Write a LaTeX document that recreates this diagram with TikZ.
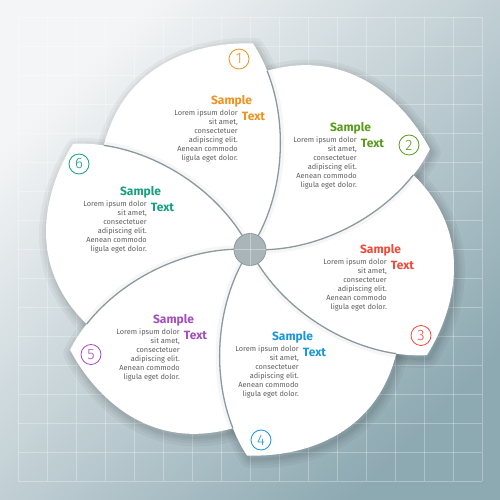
\documentclass[tikz,border=0pt]{standalone}
\usepackage{fontspec}
\setmainfont{Fira Sans}
\newfontfamily\numfont{Fira Sans Light}
\usepackage{tikz}
\usetikzlibrary{positioning}
\definecolor{bgtop}{HTML}{F4F5F6}
\definecolor{bgbot}{HTML}{8DA9B2}
\definecolor{spinegray}{HTML}{8C9A9F}
\definecolor{hubgray}{HTML}{A9B5B9}
\definecolor{bodygray}{HTML}{5F5F5F}
\definecolor{cOne}{HTML}{F0921C}
\definecolor{cTwo}{HTML}{5A9A1C}
\definecolor{cThree}{HTML}{F04A3A}
\definecolor{cFour}{HTML}{1B96DC}
\definecolor{cFive}{HTML}{A44DBF}
\definecolor{cSix}{HTML}{16A07F}
\tikzset{
    numcirc/.style={ % number in a ring
        circle,
        draw=#1,
        text=#1,
        line width=0.8pt,
        minimum size=20pt,
        inner sep=0pt,
        font=\numfont\fontsize{15}{15}\selectfont
    },
    title/.style={
        font=\bfseries\fontsize{12}{12}\selectfont,
        text=#1,
        anchor=base,
        inner sep=0pt
    },
}
% one petal, tip up, centre at origin
\newcommand{\petalshape}{(0,0) .. controls (34,51) and (39.1,123.7) .. (17.1,178.7) .. controls (13.27,188.4) and (8.55,197.6) .. (3,206) .. controls (-50,208) and (-125,188) .. ([rotate=60]17.1,178.7) -- cycle}
\newcommand{\spineline}{(0,0) .. controls (34,51) and (39.1,123.7) .. (17.1,178.7)}
% text block: name, x, y, colour
\newcommand{\sampleblock}[4]{
\node[body] (#1body) at (#2,#3+3) {Lorem ipsum dolor\\sit amet,\\consectetuer\\adipiscing elit.\\Aenean commodo\\ligula eget dolor.};
\node[title=#4] (#1title) at (#2-6.5,#3+8) {Sample};
\node[title=#4] (#1text) at (#2+15.5,#3-7.5) {Text};
}

\begin{document}
\begin{tikzpicture}[x=1pt,y=1pt]
%% styles
\tikzstyle{gridline}=[white,opacity=0.3,line width=0.8pt]
\tikzstyle{petal}=[fill=white]
\tikzstyle{spine}=[draw=spinegray,line width=1.3pt]
\tikzstyle{hub}=[circle,fill=hubgray,draw=spinegray,line width=0.8pt,minimum size=32pt,inner sep=0pt]
\tikzstyle{body}=[font=\fontsize{7.4}{9}\selectfont,text=bodygray,align=right,anchor=north east,inner sep=0pt]
\useasboundingbox (0,0) rectangle (500,500);
%%%%%%%%%%%%%%%%%%%%%%%%%%%%%%%%%%%%%%%%%%%%%%%%%%%%%%%%%%%%%%
%BACKGROUND
\shade[top color=bgtop,bottom color=bgbot,shading angle=45] (0,0) rectangle (500,500);
\foreach \i in {0,...,16}{
\draw[gridline] (18+29*\i,19) -- (18+29*\i,483);
\draw[gridline] (18,19+29*\i) -- (482,19+29*\i);
}
%%%%%%%%%%%%%%%%%%%%%%%%%%%%%%%%%%%%%%%%%%%%%%%%%%%%%%%%%%%%%%
%PETALS
% soft shadow
\foreach \a in {0,-60,-120,-180,-240,-300}{
\begin{scope}[shift={(252,247)},rotate=\a]
\foreach \w in {18,12,7,3}
\draw[black,opacity=0.04,line width=\w pt,line join=round] \petalshape;
\end{scope}
}
% white fill
\foreach \a in {0,-60,-120,-180,-240,-300}{
\begin{scope}[shift={(250,250.5)},rotate=\a]
\fill[petal] \petalshape;
\end{scope}
}
% spines
\foreach \a in {0,-60,-120,-180,-240,-300}{
\begin{scope}[shift={(250,250.5)},rotate=\a]
\draw[black,opacity=0.035,line width=4pt,xshift=2pt] \spineline;
\draw[spine] \spineline;
\end{scope}
}
%%%%%%%%%%%%%%%%%%%%%%%%%%%%%%%%%%%%%%%%%%%%%%%%%%%%%%%%%%%%%%
%HUB
\node[hub] (hub) at (250,250.5) {};
\draw[white,opacity=0.35,line width=0.6pt] (hub.north) -- (hub.south);
\draw[white,opacity=0.35,line width=0.6pt] (hub.west) -- (hub.east);
%%%%%%%%%%%%%%%%%%%%%%%%%%%%%%%%%%%%%%%%%%%%%%%%%%%%%%%%%%%%%%
%NUMBERS
\node[numcirc=cOne] (num1) at (239,441) {1};
\node[numcirc=cTwo] (num2) at (409,355) {2};
\node[numcirc=cThree] (num3) at (421,164.5) {3};
\node[numcirc=cFour] (num4) at (261,60) {4};
\node[numcirc=cFive] (num5) at (91,145.5) {5};
\node[numcirc=cSix] (num6) at (79,336) {6};
%%%%%%%%%%%%%%%%%%%%%%%%%%%%%%%%%%%%%%%%%%%%%%%%%%%%%%%%%%%%%%
%TEXTS
\sampleblock{one}{238}{387}{cOne}
\sampleblock{two}{357}{360}{cTwo}
\sampleblock{three}{387}{238}{cThree}
\sampleblock{four}{299}{151}{cFour}
\sampleblock{five}{180}{168}{cFive}
\sampleblock{six}{147}{296}{cSix}
\end{tikzpicture}
\end{document}
